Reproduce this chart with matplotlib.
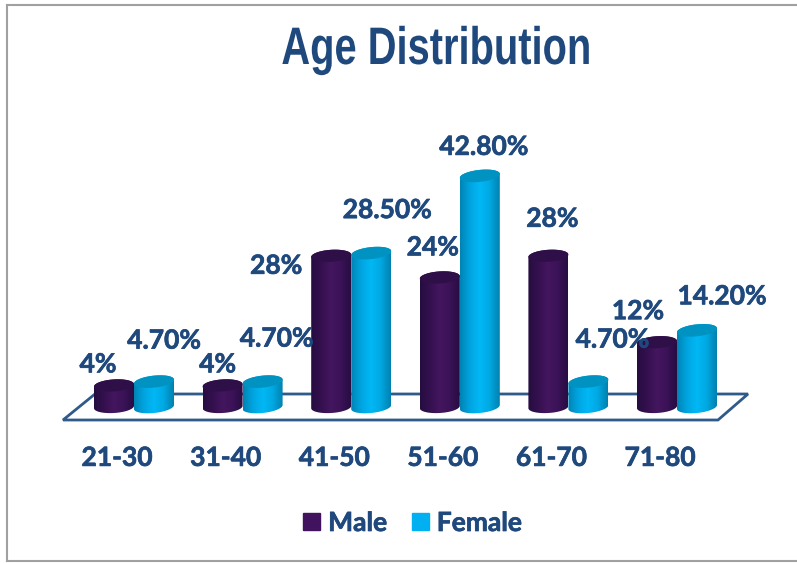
import matplotlib
matplotlib.use("Agg")
import matplotlib.patheffects as pe
import matplotlib.pyplot as plt
import numpy as np
from matplotlib.colors import LinearSegmentedColormap
from matplotlib.lines import Line2D
from matplotlib.patches import Patch, PathPatch, Polygon
from matplotlib.path import Path
from matplotlib.transforms import Affine2D, ScaledTranslation

age_groups = ["21-30", "31-40", "41-50", "51-60", "61-70", "71-80"]
male = [4, 4, 28, 24, 28, 12]
female = [4.7, 4.7, 28.5, 42.8, 4.7, 14.2]
male_labels = ["4%", "4%", "28%", "24%", "28%", "12%"]
female_labels = ["4.70%", "4.70%", "28.50%", "42.80%", "4.70%", "14.20%"]

W, H = 797, 563
NAVY = "#1F497D"
PX_PER_UNIT = 5.4
SPACING = 108.6
FIRST_X = 134
BASE_Y = 407

# label offsets in pixels from the top of each bar
male_off = [(-16, 21), (-5, 21), (-55, -10), (-7, 30), (4, 37), (-19, 31)]
female_off = [(10, 41), (14, 43), (16, 43), (4, 29), (24, 42), (25, 34)]

thick = [pe.withStroke(linewidth=0.5, foreground=NAVY)]


class Squeeze(pe.AbstractPathEffect):
    # narrows text around a pixel column, no narrow bold font is installed
    def __init__(self, cx, factor):
        super().__init__()
        self.cx = cx
        self.factor = factor

    def draw_path(self, renderer, gc, tpath, affine, rgbFace=None):
        squeeze = Affine2D().translate(-self.cx, 0).scale(self.factor, 1).translate(self.cx, 0)
        renderer.draw_path(gc, tpath, affine + squeeze, rgbFace)


fig = plt.figure(figsize=(W / 100, H / 100), dpi=100)
ax = fig.add_axes([0, (H - BASE_Y) / H, 1, BASE_Y / H])
ax.patch.set_visible(False)

half = 20 / SPACING
ry = 6 / PX_PER_UNIT


def cylinder(cx, value, colors, top_color, slope, z):
    t = np.linspace(0, np.pi, 60)
    xs = half * np.cos(t)
    top_y = value + ry * np.sin(t) + slope * xs
    bot_y = -ry * np.sin(t) + slope * xs
    body_x = np.r_[cx + xs, cx + xs[::-1]]
    body_y = np.r_[top_y, bot_y[::-1]]
    body = PathPatch(Path(np.c_[body_x, body_y]), fc="none", ec="none",
                     transform=ax.transData)
    ax.add_patch(body)
    body.set_clip_on(False)
    cmap = LinearSegmentedColormap.from_list("c", colors)
    im = ax.imshow(np.linspace(0, 1, 128)[None, :], cmap=cmap, aspect="auto",
                   extent=(cx - half, cx + half, -4, value + 4), zorder=z)
    im.set_clip_box(fig.bbox)
    im.set_clip_path(body)
    cap_y = np.r_[value + ry * np.sin(t), value - ry * np.sin(t[::-1])]
    cap_x = np.r_[xs, xs[::-1]]
    ax.add_patch(Polygon(np.c_[cx + cap_x, cap_y + slope * cap_x], fc=top_color,
                         ec="none", zorder=z + 0.1, clip_on=False))


male_cols = ["#250D40", "#34104F", "#44165F", "#3B1257", "#270D42"]
female_cols = ["#0083B5", "#00A5E0", "#00B8F5", "#00A8E2", "#0080AE"]

for i in range(len(age_groups)):
    cylinder(i - half, male[i], male_cols, "#2F0F48", 1.2, 3)
    cylinder(i + half, female[i], female_cols, "#0093C2", 2.0, 4)
    ax.annotate(male_labels[i], (i - half, male[i]), xytext=male_off[i],
                textcoords="offset pixels", ha="center", va="center",
                fontsize=19, fontweight="bold", color=NAVY, zorder=6,
                family="Lato", path_effects=thick)
    ax.annotate(female_labels[i], (i + half, female[i]), xytext=female_off[i],
                textcoords="offset pixels", ha="center", va="center",
                fontsize=19, fontweight="bold", color=NAVY, zorder=6,
                family="Lato", path_effects=thick)

ax.set_xlim(-FIRST_X / SPACING, (W - FIRST_X) / SPACING)
ax.set_ylim(0, BASE_Y / PX_PER_UNIT)
for s in ax.spines.values():
    s.set_visible(False)
ax.set_yticks([])
ax.set_xticks(range(len(age_groups)), age_groups)
ax.tick_params(axis="x", length=0, pad=28, labelsize=19, labelcolor=NAVY)
shift = ScaledTranslation(-17 / 100, 0, fig.dpi_scale_trans)
for lab in ax.get_xticklabels():
    lab.set_fontweight("bold")
    lab.set_family("Lato")
    lab.set_path_effects(thick)
    lab.set_transform(lab.get_transform() + shift)


def px(x, y):
    return x / W, 1 - y / H


# floor of the 3d box
fig.add_artist(Polygon([px(63, 420), px(718, 420), px(748, 394), px(95, 394)],
                       closed=True, fc="none", ec="#2F5A8A", lw=2,
                       transform=fig.transFigure, zorder=-1))
# outer frame
for a, b in [((7, 5), (7, 561)), ((7, 561), (797, 561)), ((7, 5), (797, 5))]:
    fig.add_artist(Line2D(*zip(px(*a), px(*b)), color="#A0A0A0", lw=1.5,
                          transform=fig.transFigure, zorder=-1))

fig.text(436 / W, 1 - 50 / H, "Age Distribution", ha="center", va="center",
         fontsize=38, fontweight="bold", color=NAVY, family="Liberation Sans",
         path_effects=[Squeeze(436, 0.755)])

handles = [Patch(color="#41135F", label="Male"), Patch(color="#00B0F0", label="Female")]
leg = fig.legend(handles=handles, loc="center", bbox_to_anchor=(412.5 / W, 1 - 523 / H),
                 ncol=2, frameon=False, handlelength=0.64, handleheight=0.64,
                 handletextpad=0.3, columnspacing=0.95, labelcolor=NAVY,
                 prop={"family": "Lato", "weight": "bold", "size": 19})
for t in leg.get_texts():
    t.set_path_effects(thick)

fig.savefig("out.png", dpi=100)
